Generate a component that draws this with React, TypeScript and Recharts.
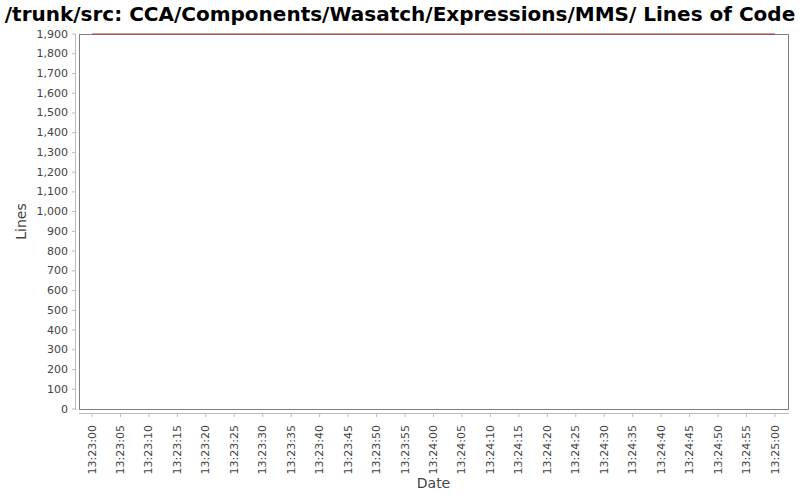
import React from "react";
import { LineChart, Line, XAxis, YAxis } from "recharts";

document.body.style.margin = "0";

// seconds after 13:23:00 for each sample, and the line count at that time
const sampleSeconds = [0, 120];
const linesOfCode = [1900, 1900];

const xTickSeconds = [
  0, 5, 10, 15, 20, 25, 30, 35, 40, 45, 50, 55, 60, 65, 70, 75, 80, 85, 90, 95,
  100, 105, 110, 115, 120,
];
const xTickLabels = [
  "13:23:00", "13:23:05", "13:23:10", "13:23:15", "13:23:20", "13:23:25",
  "13:23:30", "13:23:35", "13:23:40", "13:23:45", "13:23:50", "13:23:55",
  "13:24:00", "13:24:05", "13:24:10", "13:24:15", "13:24:20", "13:24:25",
  "13:24:30", "13:24:35", "13:24:40", "13:24:45", "13:24:50", "13:24:55",
  "13:25:00",
];
const yTicks = [
  0, 100, 200, 300, 400, 500, 600, 700, 800, 900, 1000, 1100, 1200, 1300, 1400,
  1500, 1600, 1700, 1800, 1900,
];

const title = "/trunk/src: CCA/Components/Wasatch/Expressions/MMS/ Lines of Code";

const W = 800;
const H = 500;
const PLOT_LEFT = 79;
const PLOT_RIGHT = 788;
const PLOT_TOP = 34;
const PLOT_BOTTOM = 409;
const FONT = "'DejaVu Sans', sans-serif";
const TICK_COLOR = "#444";

const data = sampleSeconds.map((s, i) => ({ t: s, loc: linesOfCode[i] }));

const YTick = ({ y, payload }: any) => (
  <g>
    <line x1={PLOT_LEFT - 7} x2={PLOT_LEFT - 3} y1={y} y2={y} stroke="#bbb" />
    <text
      x={PLOT_LEFT - 11}
      y={y}
      textAnchor="end"
      dominantBaseline="central"
      fontSize={11}
      fontFamily={FONT}
      fill={TICK_COLOR}
    >
      {payload.value.toLocaleString("en-US")}
    </text>
  </g>
);

const XTick = ({ x, payload }: any) => {
  const idx = xTickSeconds.indexOf(payload.value);
  const ly = PLOT_BOTTOM + 16;
  return (
    <g>
      <line x1={x} x2={x} y1={PLOT_BOTTOM + 4} y2={PLOT_BOTTOM + 8} stroke="#bbb" />
      <text
        x={x}
        y={ly}
        transform={`rotate(-90 ${x} ${ly})`}
        textAnchor="end"
        dominantBaseline="central"
        fontSize={11}
        fontFamily={FONT}
        fill={TICK_COLOR}
      >
        {xTickLabels[idx]}
      </text>
    </g>
  );
};

export default function App() {
  return (
    <div style={{ position: "relative", width: W, height: H, background: "#fff" }}>
      <svg
        width={W}
        height={H}
        style={{ position: "absolute", left: 0, top: 0 }}
      >
        <text
          x={W / 2}
          y={21}
          textAnchor="middle"
          fontSize={20}
          fontWeight="bold"
          fontFamily={FONT}
          fill="#000"
        >
          {title}
        </text>
        <rect
          x={PLOT_LEFT + 0.5}
          y={PLOT_TOP + 0.5}
          width={PLOT_RIGHT - PLOT_LEFT}
          height={PLOT_BOTTOM - PLOT_TOP}
          fill="#fff"
          stroke="#808080"
        />
        <line
          x1={PLOT_LEFT - 3.5}
          x2={PLOT_LEFT - 3.5}
          y1={PLOT_TOP}
          y2={PLOT_BOTTOM + 1}
          stroke="#bbb"
        />
        <line
          x1={PLOT_LEFT}
          x2={PLOT_RIGHT + 1}
          y1={PLOT_BOTTOM + 4.5}
          y2={PLOT_BOTTOM + 4.5}
          stroke="#bbb"
        />
        <text
          x={21}
          y={(PLOT_TOP + PLOT_BOTTOM) / 2}
          transform={`rotate(-90 21 ${(PLOT_TOP + PLOT_BOTTOM) / 2})`}
          textAnchor="middle"
          dominantBaseline="central"
          fontSize={14}
          fontFamily={FONT}
          fill={TICK_COLOR}
        >
          Lines
        </text>
        <text
          x={(PLOT_LEFT + PLOT_RIGHT) / 2}
          y={488}
          textAnchor="middle"
          fontSize={14}
          fontFamily={FONT}
          fill={TICK_COLOR}
        >
          Date
        </text>
      </svg>
      <div style={{ position: "absolute", left: 0, top: 0 }}>
        <LineChart
          width={W}
          height={H}
          data={data}
          margin={{ top: PLOT_TOP, right: W - PLOT_RIGHT, bottom: 0, left: 0 }}
        >
          <XAxis
            dataKey="t"
            type="number"
            domain={[0, 120]}
            ticks={xTickSeconds}
            padding={{ left: 13, right: 13 }}
            height={H - PLOT_BOTTOM}
            axisLine={false}
            tickLine={false}
            tick={<XTick />}
            interval={0}
          />
          <YAxis
            type="number"
            domain={[0, 1900]}
            ticks={yTicks}
            width={PLOT_LEFT}
            axisLine={false}
            tickLine={false}
            tick={<YTick />}
            interval={0}
          />
          <Line
            dataKey="loc"
            stroke="#a03a3a"
            strokeWidth={1}
            dot={false}
            isAnimationActive={false}
          />
        </LineChart>
      </div>
    </div>
  );
}
